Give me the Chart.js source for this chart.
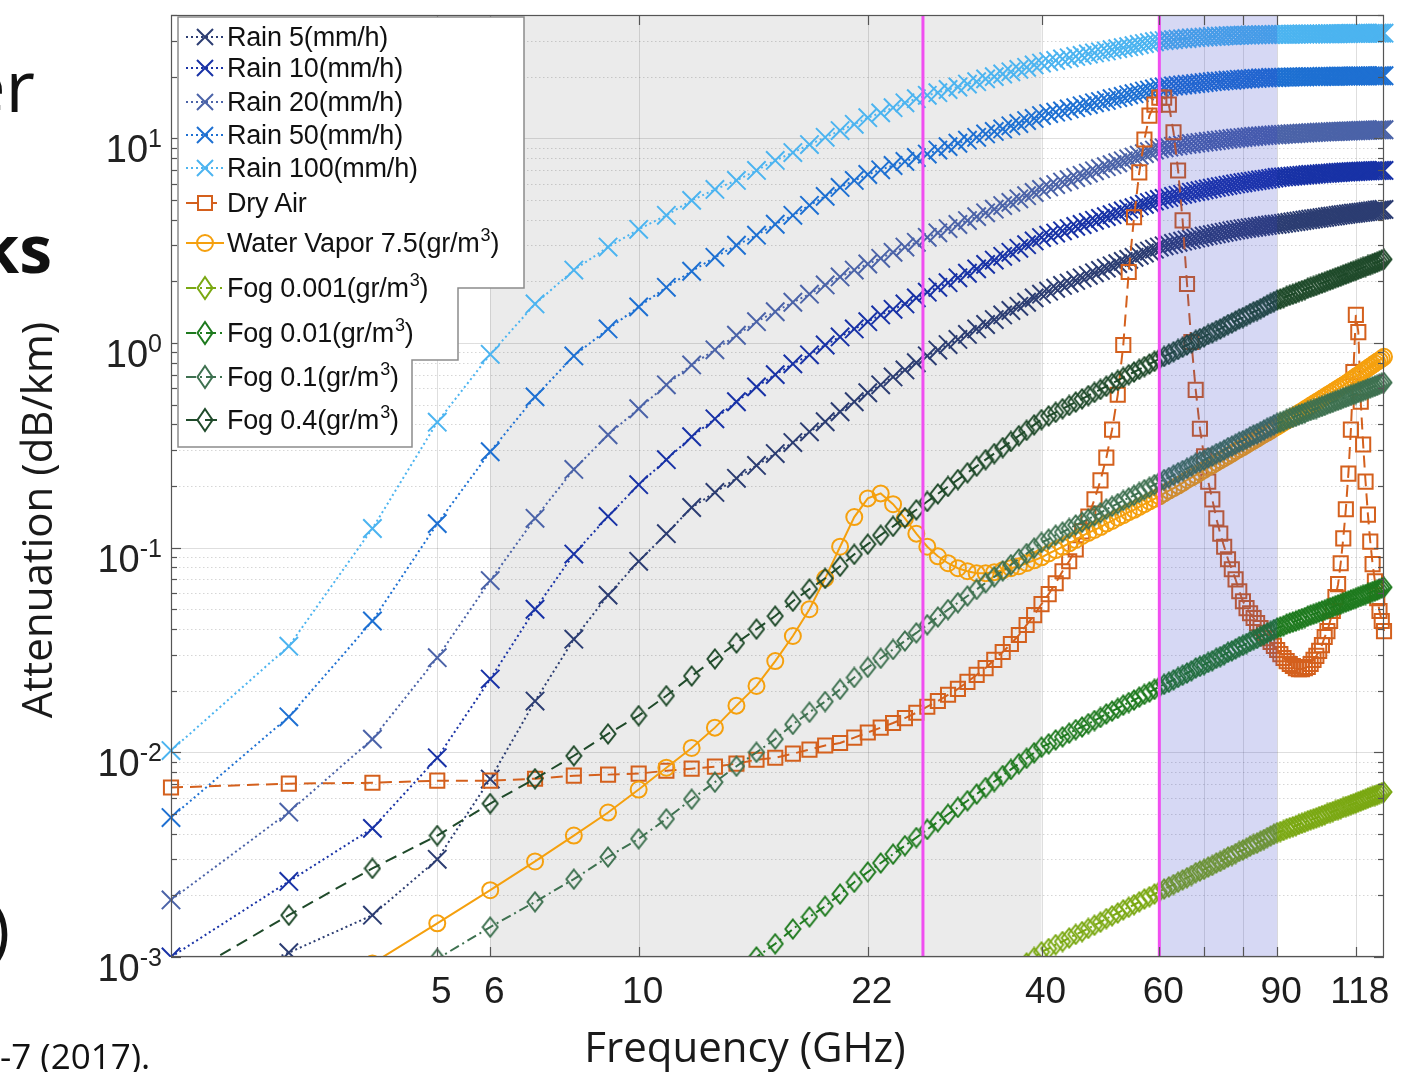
<!DOCTYPE html>
<html lang="en">
<head>
<meta charset="utf-8">
<title>Attenuation vs Frequency</title>
<script src="https://cdn.jsdelivr.net/npm/chart.js@4.4.1/dist/chart.umd.min.js"></script>
<style>
  html, body { margin: 0; padding: 0; background: #fff; }
  #page { position: relative; width: 1414px; height: 1072px; overflow: hidden; font-family: "Liberation Sans", Arial, sans-serif; color: #1a1a1a; }
  #chart { position: absolute; left: 0; top: 0; }
  .slide { position: absolute; font-family: "Open Sans", sans-serif; color: #111; white-space: nowrap; line-height: 1; }
  .ytick { position: absolute; right: 1252px; font-size: 38px; line-height: 1; white-space: nowrap; color: #222; }
  .ytick sup { font-size: 25px; position: relative; top: -15px; vertical-align: baseline; line-height: 0; }
  .title { position: absolute; font-family: "Open Sans", sans-serif; color: #1a1a1a; white-space: nowrap; line-height: 1; text-align: center; }
  #legend-box { position: absolute; left: 0; top: 0; }
  .lg-row { position: absolute; left: 185px; height: 34px; display: flex; align-items: center; font-size: 27px; white-space: nowrap; color: #111; letter-spacing: -0.2px; }
  .lg-row svg { margin-right: 2px; flex: none; }
  .lg-row sup { font-size: 18px; position: relative; top: -11px; vertical-align: baseline; line-height: 0; margin-left: 1px; }
</style>
</head>
<body>
<div id="page">
  <canvas id="chart" width="1414" height="1072"></canvas>
  <div class="slide" style="right:1379px; top:48px; font-size:72px;">er</div>
  <div class="slide" style="right:1362px; top:214px; font-size:66px; font-weight:700;">ks</div>
  <div class="slide" style="right:1404px; top:893px; font-size:68px;">)</div>
  <div class="slide" style="left:0; top:1038px; font-size:35px;">-7 (2017).</div>
  <div class="title" style="left:-214px; top:499px; width:500px; font-size:42px; transform:rotate(-90deg);">Attenuation (dB/km)</div>
  <div class="title" style="left:495px; top:1025px; width:500px; font-size:42px;">Frequency (GHz)</div>
  <svg id="legend-box" width="1414" height="1072"></svg>
  <div id="legend"></div>
  <div id="yticks"></div>
</div>
<script>
"use strict";

// 周波数 (GHz)
const FREQ_GHZ = [
  2, 3, 4, 5, 6, 7, 8, 9, 10, 11,
  12, 13, 14, 15, 16, 17, 18, 19, 20, 21,
  22, 23, 24, 25, 26, 27, 28, 29, 30, 31,
  32, 33, 34, 35, 36, 37, 38, 39, 40, 41,
  42, 43, 44, 45, 46, 47, 48, 49, 50, 51,
  52, 53, 54, 55, 56, 57, 58, 59, 60, 61,
  62, 63, 64, 65, 66, 67, 68, 69, 70, 71,
  72, 73, 74, 75, 76, 77, 78, 79, 80, 81,
  82, 83, 84, 85, 86, 87, 88, 89, 90, 91,
  92, 93, 94, 95, 96, 97, 98, 99, 100, 101,
  102, 103, 104, 105, 106, 107, 108, 109, 110, 111,
  112, 113, 114, 115, 116, 117, 118, 119, 120, 121,
  122, 123, 124, 125, 126, 127, 128, 129, 130,
];

// 減衰量 (dB/km)
const RAIN_5 = [
  0.0006, 0.00105, 0.0016, 0.003, 0.0074, 0.0178, 0.0357, 0.0586, 0.0857, 0.117,
  0.157, 0.186, 0.218, 0.252, 0.288, 0.326, 0.368, 0.412, 0.461, 0.516,
  0.571, 0.624, 0.682, 0.738, 0.80, 0.865, 0.923, 0.982, 1.04, 1.10,
  1.17, 1.23, 1.30, 1.37, 1.44, 1.51, 1.58, 1.66, 1.73, 1.79,
  1.85, 1.91, 1.96, 2.02, 2.08, 2.14, 2.20, 2.26, 2.32, 2.38,
  2.44, 2.50, 2.56, 2.62, 2.68, 2.75, 2.81, 2.87, 2.94, 2.98,
  3.02, 3.06, 3.10, 3.14, 3.18, 3.21, 3.25, 3.28, 3.32, 3.35,
  3.38, 3.41, 3.44, 3.47, 3.50, 3.53, 3.56, 3.58, 3.61, 3.63,
  3.65, 3.67, 3.69, 3.71, 3.73, 3.75, 3.77, 3.79, 3.80, 3.82,
  3.84, 3.86, 3.88, 3.90, 3.92, 3.94, 3.96, 3.98, 4.00, 4.02,
  4.04, 4.06, 4.07, 4.09, 4.11, 4.13, 4.15, 4.16, 4.18, 4.20,
  4.22, 4.23, 4.25, 4.27, 4.28, 4.30, 4.31, 4.33, 4.34, 4.36,
  4.37, 4.39, 4.40, 4.42, 4.43, 4.45, 4.46, 4.48, 4.49,
];
const RAIN_10 = [
  0.001, 0.00234, 0.00425, 0.0094, 0.0228, 0.050, 0.093, 0.142, 0.203, 0.269,
  0.348, 0.426, 0.516, 0.61, 0.70, 0.79, 0.875, 0.977, 1.07, 1.17,
  1.27, 1.37, 1.46, 1.55, 1.66, 1.77, 1.87, 1.97, 2.08, 2.19,
  2.30, 2.42, 2.54, 2.65, 2.77, 2.90, 3.02, 3.15, 3.27, 3.36,
  3.44, 3.53, 3.62, 3.71, 3.79, 3.88, 3.97, 4.06, 4.14, 4.23,
  4.32, 4.41, 4.50, 4.58, 4.67, 4.76, 4.85, 4.93, 5.02, 5.08,
  5.14, 5.20, 5.26, 5.32, 5.38, 5.44, 5.49, 5.54, 5.60, 5.65,
  5.70, 5.75, 5.80, 5.84, 5.89, 5.93, 5.98, 6.02, 6.06, 6.10,
  6.14, 6.17, 6.21, 6.25, 6.28, 6.31, 6.35, 6.39, 6.43, 6.45,
  6.47, 6.49, 6.51, 6.53, 6.55, 6.57, 6.59, 6.61, 6.63, 6.65,
  6.66, 6.68, 6.70, 6.71, 6.73, 6.74, 6.76, 6.77, 6.79, 6.80,
  6.81, 6.83, 6.84, 6.85, 6.86, 6.87, 6.88, 6.89, 6.90, 6.91,
  6.92, 6.93, 6.93, 6.94, 6.95, 6.95, 6.96, 6.96, 6.96,
];
const RAIN_20 = [
  0.0019, 0.0051, 0.0116, 0.029, 0.069, 0.139, 0.241, 0.356, 0.477, 0.624,
  0.781, 0.925, 1.09, 1.27, 1.42, 1.58, 1.73, 1.92, 2.10, 2.27,
  2.43, 2.59, 2.77, 2.94, 3.10, 3.28, 3.45, 3.62, 3.79, 3.96,
  4.14, 4.32, 4.50, 4.69, 4.86, 5.06, 5.24, 5.43, 5.62, 5.78,
  5.94, 6.11, 6.27, 6.43, 6.59, 6.76, 6.93, 7.10, 7.26, 7.43,
  7.59, 7.76, 7.93, 8.09, 8.26, 8.41, 8.59, 8.75, 8.91, 8.98,
  9.06, 9.13, 9.20, 9.27, 9.34, 9.40, 9.46, 9.52, 9.58, 9.64,
  9.69, 9.75, 9.80, 9.85, 9.90, 9.95, 10.0, 10.04, 10.08, 10.12,
  10.16, 10.2, 10.23, 10.26, 10.29, 10.32, 10.35, 10.38, 10.4, 10.43,
  10.45, 10.48, 10.5, 10.52, 10.54, 10.56, 10.58, 10.6, 10.62, 10.64,
  10.66, 10.68, 10.7, 10.71, 10.73, 10.74, 10.76, 10.77, 10.79, 10.8,
  10.81, 10.83, 10.84, 10.85, 10.86, 10.87, 10.88, 10.9, 10.91, 10.92,
  10.93, 10.94, 10.95, 10.96, 10.97, 10.98, 10.99, 11.0, 11.0,
];
const RAIN_50 = [
  0.0048, 0.0149, 0.0438, 0.131, 0.294, 0.545, 0.864, 1.17, 1.50, 1.87,
  2.24, 2.62, 3.0, 3.36, 3.80, 4.20, 4.70, 5.20, 5.75, 6.22,
  6.65, 7.01, 7.36, 7.70, 8.05, 8.37, 8.75, 9.10, 9.45, 9.78,
  10.1, 10.5, 10.8, 11.1, 11.5, 11.8, 12.2, 12.5, 12.9, 13.2,
  13.4, 13.6, 13.9, 14.1, 14.4, 14.6, 14.9, 15.1, 15.3, 15.6,
  15.8, 16.0, 16.3, 16.5, 16.7, 17.0, 17.2, 17.4, 17.7, 17.8,
  17.9, 18.0, 18.1, 18.2, 18.3, 18.4, 18.5, 18.6, 18.7, 18.8,
  18.9, 19.0, 19.0, 19.1, 19.2, 19.2, 19.3, 19.4, 19.4, 19.5,
  19.5, 19.6, 19.6, 19.7, 19.7, 19.7, 19.8, 19.8, 19.8, 19.85,
  19.87, 19.9, 19.9, 19.92, 19.94, 19.95, 19.96, 19.97, 19.98, 20.0,
  20.0, 20.0, 20.02, 20.03, 20.04, 20.05, 20.06, 20.07, 20.08, 20.09,
  20.1, 20.1, 20.11, 20.12, 20.13, 20.14, 20.14, 20.15, 20.16, 20.16,
  20.17, 20.17, 20.18, 20.18, 20.19, 20.19, 20.2, 20.2, 20.2,
];
const RAIN_100 = [
  0.0102, 0.033, 0.124, 0.41, 0.88, 1.55, 2.27, 2.94, 3.59, 4.20,
  4.97, 5.62, 6.22, 6.96, 7.79, 8.51, 9.31, 10.1, 10.9, 11.7,
  12.6, 13.3, 14.1, 14.9, 15.6, 16.2, 16.7, 17.3, 17.8, 18.4,
  18.9, 19.5, 20.0, 20.6, 21.1, 21.7, 22.2, 22.8, 23.3, 23.7,
  24.0, 24.4, 24.7, 25.1, 25.4, 25.8, 26.1, 26.4, 26.7, 27.1,
  27.4, 27.7, 28.0, 28.3, 28.7, 29.0, 29.3, 29.6, 29.9, 30.0,
  30.2, 30.3, 30.5, 30.6, 30.7, 30.9, 31.0, 31.1, 31.2, 31.3,
  31.4, 31.5, 31.5, 31.6, 31.7, 31.7, 31.8, 31.8, 31.9, 31.9,
  31.95, 32.0, 32.0, 32.05, 32.1, 32.1, 32.1, 32.15, 32.15, 32.2,
  32.2, 32.2, 32.2, 32.25, 32.25, 32.25, 32.3, 32.3, 32.3, 32.3,
  32.3, 32.35, 32.35, 32.35, 32.35, 32.4, 32.4, 32.4, 32.4, 32.4,
  32.45, 32.45, 32.45, 32.45, 32.5, 32.5, 32.5, 32.5, 32.5, 32.5,
  32.55, 32.55, 32.55, 32.55, 32.6, 32.6, 32.6, 32.6, 32.6,
];
const DRY_AIR = [
  0.00673, 0.00703, 0.0071, 0.00727, 0.00727, 0.00743, 0.00769, 0.00778, 0.00787, 0.00813,
  0.00832, 0.00851, 0.0088, 0.0092, 0.00941, 0.00985, 0.0103, 0.0108, 0.0111, 0.0118,
  0.0125, 0.0132, 0.0139, 0.0147, 0.0156, 0.0167, 0.0178, 0.0191, 0.0204, 0.0221,
  0.0239, 0.0258, 0.0283, 0.0309, 0.0338, 0.0374, 0.0419, 0.0468, 0.053, 0.0593,
  0.067, 0.0767, 0.0858, 0.098, 0.12, 0.142, 0.172, 0.213, 0.275, 0.377,
  0.558, 0.977, 2.22, 4.11, 6.81, 9.86, 12.9, 14.6, 15.8, 15.8,
  14.6, 10.7, 6.96, 3.97, 1.94, 1.01, 0.59, 0.381, 0.279, 0.21,
  0.172, 0.139, 0.117, 0.101, 0.0877, 0.0784, 0.07, 0.0612, 0.0547, 0.0506,
  0.0478, 0.0453, 0.0428, 0.0405, 0.0383, 0.0361, 0.0346, 0.0331, 0.0316, 0.0302,
  0.0289, 0.0279, 0.027, 0.0264, 0.0258, 0.0255, 0.0255, 0.0258, 0.0261, 0.027,
  0.0283, 0.0296, 0.0313, 0.0334, 0.0366, 0.0391, 0.0438, 0.049, 0.0573, 0.0663,
  0.0839, 0.111, 0.154, 0.23, 0.377, 0.72, 1.37, 1.13, 0.516, 0.319,
  0.21, 0.145, 0.107, 0.083, 0.0685, 0.0566, 0.049, 0.0438, 0.0391,
];
const WATER_VAPOR = [
  0.00022, 0.0005, 0.00093, 0.00146, 0.00212, 0.00293, 0.00392, 0.00508, 0.00658, 0.00841,
  0.0105, 0.0132, 0.0169, 0.0211, 0.0279, 0.037, 0.050, 0.0708, 0.101, 0.141,
  0.174, 0.184, 0.163, 0.139, 0.117, 0.101, 0.0907, 0.0839, 0.0793, 0.0767,
  0.075, 0.075, 0.0759, 0.0775, 0.0793, 0.0811, 0.084, 0.0867, 0.0897, 0.0936,
  0.0973, 0.101, 0.105, 0.109, 0.114, 0.118, 0.122, 0.126, 0.131, 0.135,
  0.140, 0.144, 0.149, 0.153, 0.158, 0.163, 0.168, 0.173, 0.178, 0.184,
  0.190, 0.195, 0.201, 0.207, 0.214, 0.220, 0.226, 0.233, 0.240, 0.247,
  0.253, 0.260, 0.267, 0.274, 0.281, 0.288, 0.296, 0.303, 0.310, 0.318,
  0.326, 0.333, 0.341, 0.349, 0.357, 0.365, 0.373, 0.382, 0.390, 0.399,
  0.408, 0.417, 0.426, 0.436, 0.445, 0.455, 0.464, 0.474, 0.484, 0.494,
  0.504, 0.514, 0.524, 0.535, 0.545, 0.556, 0.566, 0.577, 0.588, 0.599,
  0.610, 0.621, 0.632, 0.645, 0.659, 0.671, 0.685, 0.698, 0.711, 0.726,
  0.740, 0.754, 0.768, 0.782, 0.796, 0.811, 0.824, 0.839, 0.855,
];
const FOG_0001 = [
  1.85e-6, 4.0e-6, 6.78e-6, 9.8e-6, 1.4e-5, 1.86e-5, 2.4e-5, 3.08e-5, 3.78e-5, 4.73e-5,
  5.9e-5, 7.15e-5, 8.55e-5, 1.0e-4, 1.16e-4, 1.37e-4, 1.57e-4, 1.77e-4, 2.03e-4, 2.32e-4,
  2.6e-4, 2.88e-4, 3.18e-4, 3.5e-4, 3.83e-4, 4.2e-4, 4.58e-4, 4.98e-4, 5.38e-4, 5.8e-4,
  6.25e-4, 6.73e-4, 7.2e-4, 7.7e-4, 8.25e-4, 8.8e-4, 9.35e-4, 9.95e-4, 1.06e-3, 1.1e-3,
  1.15e-3, 1.19e-3, 1.24e-3, 1.29e-3, 1.33e-3, 1.38e-3, 1.43e-3, 1.48e-3, 1.54e-3, 1.59e-3,
  1.64e-3, 1.7e-3, 1.75e-3, 1.8e-3, 1.86e-3, 1.92e-3, 1.97e-3, 2.03e-3, 2.09e-3, 2.15e-3,
  2.2e-3, 2.26e-3, 2.32e-3, 2.38e-3, 2.44e-3, 2.5e-3, 2.58e-3, 2.63e-3, 2.68e-3, 2.75e-3,
  2.8e-3, 2.88e-3, 2.93e-3, 3.0e-3, 3.08e-3, 3.13e-3, 3.2e-3, 3.28e-3, 3.33e-3, 3.4e-3,
  3.48e-3, 3.55e-3, 3.6e-3, 3.68e-3, 3.75e-3, 3.83e-3, 3.9e-3, 3.98e-3, 4.05e-3, 4.1e-3,
  4.15e-3, 4.23e-3, 4.28e-3, 4.33e-3, 4.38e-3, 4.45e-3, 4.5e-3, 4.55e-3, 4.63e-3, 4.68e-3,
  4.73e-3, 4.78e-3, 4.85e-3, 4.9e-3, 4.95e-3, 5.03e-3, 5.08e-3, 5.13e-3, 5.2e-3, 5.25e-3,
  5.3e-3, 5.38e-3, 5.43e-3, 5.48e-3, 5.55e-3, 5.6e-3, 5.65e-3, 5.73e-3, 5.78e-3, 5.85e-3,
  5.9e-3, 5.98e-3, 6.03e-3, 6.1e-3, 6.15e-3, 6.2e-3, 6.28e-3, 6.35e-3, 6.4e-3,
];
const FOG_001 = [
  1.85e-5, 4.0e-5, 6.78e-5, 9.8e-5, 1.4e-4, 1.86e-4, 2.4e-4, 3.08e-4, 3.78e-4, 4.73e-4,
  5.9e-4, 7.15e-4, 8.55e-4, 1.0e-3, 1.16e-3, 1.37e-3, 1.57e-3, 1.77e-3, 2.03e-3, 2.32e-3,
  2.6e-3, 2.88e-3, 3.18e-3, 3.5e-3, 3.83e-3, 4.2e-3, 4.58e-3, 4.98e-3, 5.38e-3, 5.8e-3,
  6.25e-3, 6.73e-3, 7.2e-3, 7.7e-3, 8.25e-3, 8.8e-3, 9.35e-3, 9.95e-3, 0.0106, 0.011,
  0.0115, 0.0119, 0.0124, 0.0129, 0.0133, 0.0138, 0.0143, 0.0148, 0.0154, 0.0159,
  0.0164, 0.017, 0.0175, 0.018, 0.0186, 0.0192, 0.0197, 0.0203, 0.0209, 0.0215,
  0.022, 0.0226, 0.0232, 0.0238, 0.0244, 0.025, 0.0258, 0.0263, 0.0268, 0.0275,
  0.028, 0.0288, 0.0293, 0.03, 0.0308, 0.0313, 0.032, 0.0328, 0.0333, 0.034,
  0.0348, 0.0355, 0.036, 0.0368, 0.0375, 0.0383, 0.039, 0.0398, 0.0405, 0.041,
  0.0415, 0.0423, 0.0428, 0.0433, 0.0438, 0.0445, 0.045, 0.0455, 0.0463, 0.0468,
  0.0473, 0.0478, 0.0485, 0.049, 0.0495, 0.0503, 0.0508, 0.0513, 0.052, 0.0525,
  0.053, 0.0538, 0.0543, 0.0548, 0.0555, 0.056, 0.0565, 0.0573, 0.0578, 0.0585,
  0.059, 0.0598, 0.0603, 0.061, 0.0615, 0.062, 0.0628, 0.0635, 0.064,
];
const FOG_01 = [
  0.000185, 0.0004, 0.000678, 0.00098, 0.0014, 0.00186, 0.0024, 0.00308, 0.00378, 0.00473,
  0.0059, 0.00715, 0.00855, 0.01, 0.0116, 0.0137, 0.0157, 0.0177, 0.0203, 0.0232,
  0.026, 0.0288, 0.0318, 0.035, 0.0383, 0.042, 0.0458, 0.0498, 0.0538, 0.058,
  0.0625, 0.0673, 0.072, 0.077, 0.0825, 0.088, 0.0935, 0.0995, 0.106, 0.11,
  0.115, 0.119, 0.124, 0.129, 0.133, 0.138, 0.143, 0.148, 0.154, 0.159,
  0.164, 0.17, 0.175, 0.18, 0.186, 0.192, 0.197, 0.203, 0.209, 0.215,
  0.22, 0.226, 0.232, 0.238, 0.244, 0.25, 0.258, 0.263, 0.268, 0.275,
  0.28, 0.288, 0.293, 0.3, 0.308, 0.313, 0.32, 0.328, 0.333, 0.34,
  0.348, 0.355, 0.36, 0.368, 0.375, 0.383, 0.39, 0.398, 0.405, 0.41,
  0.415, 0.423, 0.428, 0.433, 0.438, 0.445, 0.45, 0.455, 0.463, 0.468,
  0.473, 0.478, 0.485, 0.49, 0.495, 0.503, 0.508, 0.513, 0.52, 0.525,
  0.53, 0.538, 0.543, 0.548, 0.555, 0.56, 0.565, 0.573, 0.578, 0.585,
  0.59, 0.598, 0.603, 0.61, 0.615, 0.62, 0.628, 0.635, 0.64,
];
const FOG_04 = [
  0.00074, 0.0016, 0.00271, 0.00392, 0.00562, 0.00743, 0.00962, 0.0123, 0.0151, 0.0189,
  0.0236, 0.0286, 0.0342, 0.040, 0.0463, 0.0547, 0.0627, 0.0708, 0.0811, 0.0927,
  0.104, 0.115, 0.127, 0.140, 0.153, 0.168, 0.183, 0.199, 0.215, 0.232,
  0.250, 0.269, 0.288, 0.308, 0.330, 0.352, 0.374, 0.398, 0.422, 0.440,
  0.458, 0.477, 0.495, 0.514, 0.533, 0.553, 0.573, 0.593, 0.614, 0.635,
  0.656, 0.678, 0.700, 0.721, 0.743, 0.766, 0.789, 0.813, 0.836, 0.859,
  0.881, 0.905, 0.929, 0.953, 0.977, 1.00, 1.03, 1.05, 1.07, 1.10,
  1.12, 1.15, 1.17, 1.20, 1.23, 1.25, 1.28, 1.31, 1.33, 1.36,
  1.39, 1.42, 1.44, 1.47, 1.50, 1.53, 1.56, 1.59, 1.62, 1.64,
  1.66, 1.69, 1.71, 1.73, 1.75, 1.78, 1.80, 1.82, 1.85, 1.87,
  1.89, 1.91, 1.94, 1.96, 1.98, 2.01, 2.03, 2.05, 2.08, 2.10,
  2.12, 2.15, 2.17, 2.19, 2.22, 2.24, 2.26, 2.29, 2.31, 2.34,
  2.36, 2.39, 2.41, 2.44, 2.46, 2.48, 2.51, 2.54, 2.56,
];

// 軸
const X_MIN = 2, X_MAX = 130;
const Y_MIN = 0.001, Y_MAX = 40;
const X_TICKS = [5, 6, 10, 22, 40, 60, 70, 80, 90, 118];
const X_TICK_LABELS = ["5", "6", "10", "22", "40", "60", "", "", "90", "118"];
const Y_EXPONENTS = [-3, -2, -1, 0, 1];

// 帯域の網掛けと縦線 (GHz)
const GRAY_BAND = [6, 40];
const BLUE_BAND = [60, 90];
const MARK_LINES = [26.6, 60];

const DOT = [2, 3];
const DASH = [12, 7];
const DASHDOT = [10, 4, 2, 4];

const SERIES = [
  { label: "Rain 5(mm/h)", values: RAIN_5, color: "#2c3d72", marker: "x", dash: DOT },
  { label: "Rain 10(mm/h)", values: RAIN_10, color: "#1832a6", marker: "x", dash: DOT },
  { label: "Rain 20(mm/h)", values: RAIN_20, color: "#4b63a8", marker: "x", dash: DOT },
  { label: "Rain 50(mm/h)", values: RAIN_50, color: "#1e70d2", marker: "x", dash: DOT },
  { label: "Rain 100(mm/h)", values: RAIN_100, color: "#4cb4f0", marker: "x", dash: DOT },
  { label: "Dry Air", values: DRY_AIR, color: "#d4601d", marker: "square", dash: DASH },
  { label: "Water Vapor 7.5(gr/m<sup>3</sup>)", values: WATER_VAPOR, color: "#f5a00e", marker: "circle", dash: [] },
  { label: "Fog 0.001(gr/m<sup>3</sup>)", values: FOG_0001, color: "#7aa812", marker: "diamond", dash: DASHDOT },
  { label: "Fog 0.01(gr/m<sup>3</sup>)", values: FOG_001, color: "#1e7a1e", marker: "diamond", dash: DASHDOT },
  { label: "Fog 0.1(gr/m<sup>3</sup>)", values: FOG_01, color: "#3e7150", marker: "diamond", dash: DASHDOT },
  { label: "Fog 0.4(gr/m<sup>3</sup>)", values: FOG_04, color: "#1f4a2a", marker: "diamond", dash: DASH },
];

// 凡例の行位置
const LEGEND_ROW_Y = [37, 68, 102, 135, 168, 203, 243, 288, 333, 377, 420];

const AXIS_COLOR = "#555";
const GRID_MAJOR = "rgba(0,0,0,0.13)";
const GRID_MINOR = "rgba(0,0,0,0.16)";

function diamondImage(color) {
  const c = document.createElement("canvas");
  c.width = 18;
  c.height = 22;
  const g = c.getContext("2d");
  g.strokeStyle = color;
  g.lineWidth = 2;
  g.beginPath();
  g.moveTo(9, 1.5);
  g.lineTo(16.5, 11);
  g.lineTo(9, 20.5);
  g.lineTo(1.5, 11);
  g.closePath();
  g.stroke();
  return c;
}

function pointStyleFor(s) {
  if (s.marker === "x") return { pointStyle: "crossRot", pointRadius: 13 };
  if (s.marker === "square") return { pointStyle: "rect", pointRadius: 10 };
  if (s.marker === "circle") return { pointStyle: "circle", pointRadius: 8 };
  return { pointStyle: diamondImage(s.color), pointRadius: 9 };
}

const datasets = SERIES.map((s, i) => Object.assign({
  label: s.label,
  data: FREQ_GHZ.map((f, k) => ({ x: f, y: s.values[k] })),
  borderColor: s.color,
  borderWidth: 2,
  borderDash: s.dash,
  pointBorderColor: s.color,
  pointBackgroundColor: "rgba(0,0,0,0)",
  pointBorderWidth: 2,
  fill: false,
  tension: 0,
  clip: { left: 14, right: 14, top: 14, bottom: 0 },
  // 後に並ぶ系列ほど上に描く
  order: SERIES.length - i,
}, pointStyleFor(s)));

function vline(ctx, px, y0, y1) {
  ctx.beginPath();
  ctx.moveTo(px, y0);
  ctx.lineTo(px, y1);
  ctx.stroke();
}

function hline(ctx, py, x0, x1) {
  ctx.beginPath();
  ctx.moveTo(x0, py);
  ctx.lineTo(x1, py);
  ctx.stroke();
}

function yGridValues() {
  const out = [];
  Y_EXPONENTS.forEach((e) => {
    for (let k = 1; k <= 9; k++) {
      const v = k * Math.pow(10, e);
      if (v >= Y_MIN * 0.999 && v <= Y_MAX) out.push({ v, major: k === 1 });
    }
  });
  return out;
}

const plotDecor = {
  id: "plotDecor",
  beforeDraw(chart) {
    const { ctx, chartArea: a, scales: { x } } = chart;
    const x0 = x.getPixelForValue(GRAY_BAND[0]);
    const x1 = x.getPixelForValue(GRAY_BAND[1]);
    ctx.save();
    ctx.fillStyle = "rgba(0,0,0,0.08)";
    ctx.fillRect(x0, a.top, x1 - x0, a.bottom - a.top);
    ctx.restore();
  },
  beforeDatasetsDraw(chart) {
    const { ctx, chartArea: a, scales: { x, y } } = chart;
    ctx.save();
    ctx.lineWidth = 1;
    // ---- グリッド ----
    ctx.strokeStyle = GRID_MAJOR;
    X_TICKS.forEach((v) => vline(ctx, Math.round(x.getPixelForValue(v)) + 0.5, a.top, a.bottom));
    yGridValues().forEach(({ v, major }) => {
      const py = Math.round(y.getPixelForValue(v)) + 0.5;
      if (major) {
        ctx.setLineDash([]);
        ctx.strokeStyle = GRID_MAJOR;
      } else {
        ctx.setLineDash([1.5, 2.5]);
        ctx.strokeStyle = GRID_MINOR;
      }
      hline(ctx, py, a.left, a.right);
    });
    ctx.restore();
  },
  afterDatasetsDraw(chart) {
    const { ctx, chartArea: a, scales: { x, y } } = chart;
    ctx.save();
    // 60-90 GHz は半透明で重ねる
    const b0 = x.getPixelForValue(BLUE_BAND[0]);
    const b1 = x.getPixelForValue(BLUE_BAND[1]);
    ctx.fillStyle = "rgba(50,60,200,0.2)";
    ctx.fillRect(b0, a.top, b1 - b0, a.bottom - a.top);

    ctx.strokeStyle = "#f04ef0";
    ctx.lineWidth = 3;
    MARK_LINES.forEach((f) => vline(ctx, x.getPixelForValue(f), a.top, a.bottom));

    // ---- 枠と目盛り ----
    ctx.strokeStyle = AXIS_COLOR;
    ctx.lineWidth = 1.2;
    ctx.strokeRect(a.left + 0.5, a.top + 0.5, a.right - a.left - 1, a.bottom - a.top - 1);
    X_TICKS.forEach((v) => {
      const px = Math.round(x.getPixelForValue(v)) + 0.5;
      vline(ctx, px, a.bottom, a.bottom - 10);
      vline(ctx, px, a.top, a.top + 10);
    });
    yGridValues().forEach(({ v, major }) => {
      const py = Math.round(y.getPixelForValue(v)) + 0.5;
      const len = major ? 10 : 6;
      hline(ctx, py, a.left, a.left + len);
      hline(ctx, py, a.right, a.right - len);
    });
    ctx.restore();
  },
};

const chart = new Chart(document.getElementById("chart"), {
  type: "line",
  data: { datasets },
  options: {
    responsive: false,
    animation: false,
    events: [],
    layout: { padding: { left: 0, right: 30, top: 10, bottom: 0 } },
    plugins: { legend: { display: false }, tooltip: { enabled: false } },
    scales: {
      x: {
        type: "logarithmic",
        min: X_MIN,
        max: X_MAX,
        grid: { display: false },
        border: { display: false },
        afterBuildTicks: (s) => { s.ticks = X_TICKS.map((v) => ({ value: v })); },
        afterFit: (s) => { s.height = 115; },
        ticks: {
          autoSkip: false,
          maxRotation: 0,
          minRotation: 0,
          padding: 6,
          labelOffset: 4,
          color: "#1e1e1e",
          font: { family: "'Liberation Sans', Arial, sans-serif", size: 37 },
          callback: (v) => {
            const i = X_TICKS.indexOf(Number(v));
            return i >= 0 ? X_TICK_LABELS[i] : "";
          },
        },
      },
      y: {
        type: "logarithmic",
        min: Y_MIN,
        max: Y_MAX,
        grid: { display: false },
        border: { display: false },
        ticks: { display: false },
        afterFit: (s) => { s.width = 171; },
      },
    },
  },
  plugins: [plotDecor],
});

// ---- y 軸ラベル (10 のべき乗、指数込みで中央揃え) ----
const yticksEl = document.getElementById("yticks");
Y_EXPONENTS.forEach((e) => {
  const py = chart.scales.y.getPixelForValue(Math.pow(10, e));
  const d = document.createElement("div");
  d.className = "ytick";
  d.style.top = (py - 8) + "px";
  d.innerHTML = `10<sup>${e}</sup>`;
  yticksEl.appendChild(d);
});

// ---- 凡例 ----
function legendSample(s) {
  const c = s.color;
  const dash = s.dash.length ? `stroke-dasharray="${s.dash.join(" ")}"` : "";
  let mark = "";
  if (s.marker === "x") {
    mark = `<path d="M12 6 L28 22 M28 6 L12 22" stroke="${c}" stroke-width="2" fill="none"/>`;
  } else if (s.marker === "square") {
    mark = `<rect x="13" y="7" width="14" height="14" stroke="${c}" stroke-width="2" fill="#fff"/>`;
  } else if (s.marker === "circle") {
    mark = `<circle cx="20" cy="14" r="8" stroke="${c}" stroke-width="2" fill="none"/>`;
  } else {
    mark = `<polygon points="20,3 27.5,14 20,25 12.5,14" stroke="${c}" stroke-width="2" fill="none"/>`;
  }
  return `<svg width="40" height="28" viewBox="0 0 40 28">` +
    `<line x1="1" y1="14" x2="39" y2="14" stroke="${c}" stroke-width="2" ${dash}/>` +
    mark + `</svg>`;
}

document.getElementById("legend-box").innerHTML =
  `<polygon points="178,17 524,17 524,288 458,288 458,360 412,360 412,447 178,447" ` +
  `fill="#fff" stroke="#8c8c8c" stroke-width="1.5"/>`;

const legendEl = document.getElementById("legend");
SERIES.forEach((s, i) => {
  const row = document.createElement("div");
  row.className = "lg-row";
  row.style.top = (LEGEND_ROW_Y[i] - 17) + "px";
  row.innerHTML = legendSample(s) + `<span>${s.label}</span>`;
  legendEl.appendChild(row);
});
</script>
</body>
</html>
